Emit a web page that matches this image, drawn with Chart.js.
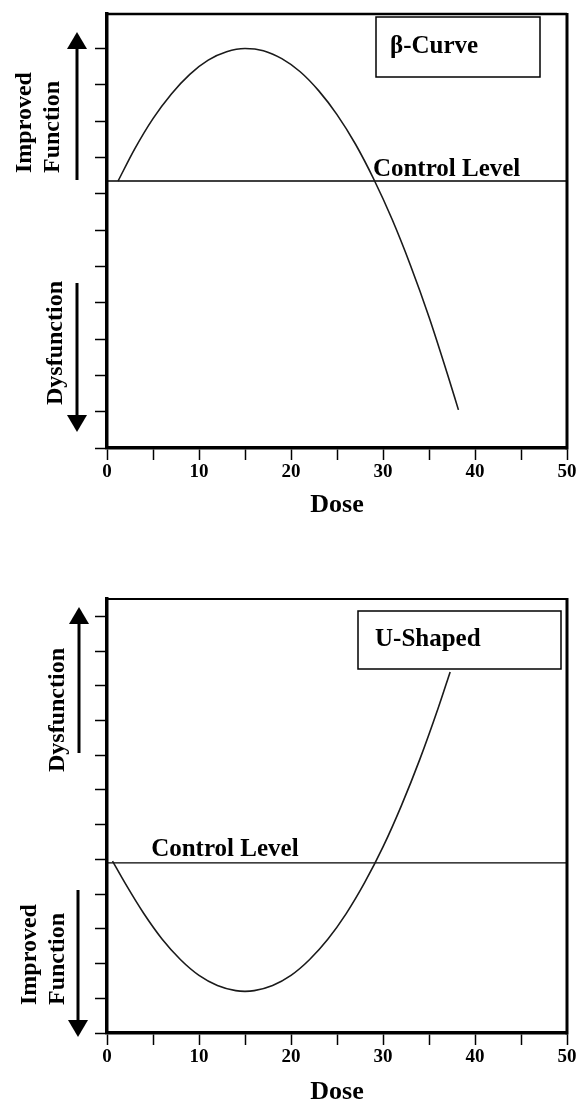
<!DOCTYPE html>
<html>
<head>
<meta charset="utf-8">
<script src="https://cdn.jsdelivr.net/npm/chart.js@4.4.0/dist/chart.umd.min.js"></script>
<style>
  html, body { margin: 0; padding: 0; background: #fff; }
  #page { position: relative; width: 581px; height: 1108px; }
  canvas { position: absolute; left: 0; }
</style>
</head>
<body>
<div id="page">
  <canvas id="beta" width="581" height="540" style="top:0"></canvas>
  <canvas id="ushape" width="581" height="568" style="top:540px"></canvas>
</div>
<script>
// dose ticks that carry a label (minor ticks every 5 have none)
const doseLabels = [0, 10, 20, 30, 40, 50];

// beta curve
const betaDose = [1.2, 3, 5, 7, 9, 11, 13, 15, 17, 19, 21, 23, 25, 27, 29, 31, 33, 35, 37, 38.2];
const betaResponse = [7.35, 8.23, 9.07, 9.75, 10.29, 10.68, 10.91, 11.0, 10.94, 10.72, 10.36, 9.84, 9.18, 8.37, 7.4, 6.29, 5.02, 3.61, 2.04, 1.05];
const betaControl = 7.35;

// u-shaped curve, bottom panel
const uDose = [0.6, 2, 4, 6, 8, 10, 12, 14, 15, 16, 18, 20, 22, 24, 26, 28, 30, 32, 34, 36, 37.3];
const uResponse = [4.95, 4.3, 3.44, 2.7, 2.11, 1.66, 1.37, 1.22, 1.2, 1.22, 1.37, 1.66, 2.11, 2.7, 3.44, 4.33, 5.36, 6.55, 7.88, 9.36, 10.4];
const uControl = 4.9;

const SERIF = '"Liberation Serif", "Times New Roman", serif';

//frame, legend box, control label, side labels and arrows
const panelDecor = {
  id: 'panelDecor',
  afterDraw(chart, args, o) {
    const ctx = chart.ctx;
    const a = chart.chartArea;
    const x = chart.scales.x, y = chart.scales.y;
    ctx.save();
    ctx.strokeStyle = '#000';
    ctx.fillStyle = '#000';
    // top and right edge of the frame
    ctx.lineWidth = o.topWidth;
    ctx.beginPath(); ctx.moveTo(a.left - 1.5, a.top); ctx.lineTo(a.right, a.top); ctx.stroke();
    ctx.lineWidth = 3;
    ctx.beginPath(); ctx.moveTo(a.right, a.top - 1); ctx.lineTo(a.right, a.bottom + 1.5); ctx.stroke();

    ctx.font = 'bold 25px ' + SERIF;
    ctx.textAlign = 'left';
    ctx.textBaseline = 'alphabetic';
    ctx.fillText('Control Level', x.getPixelForValue(o.controlAt), y.getPixelForValue(o.control) - o.controlGap);

    // legend box
    const b = o.box;
    ctx.fillStyle = '#fff';
    ctx.fillRect(b.x, b.y, b.w, b.h);
    ctx.lineWidth = 1.5;
    ctx.strokeRect(b.x, b.y, b.w, b.h);
    ctx.fillStyle = '#000';
    ctx.textBaseline = 'middle';
    ctx.fillText(b.text, b.x + b.pad, b.y + b.h / 2);

    // rotated labels left of the axis
    ctx.font = 'bold 24px ' + SERIF;
    ctx.textBaseline = 'alphabetic';
    o.side.forEach(s => {
      s.lines.forEach((t, i) => {
        ctx.save();
        ctx.translate(s.xs[i], s.y);
        ctx.rotate(-Math.PI / 2);
        ctx.fillText(t, 0, 0);
        ctx.restore();
      });
    });

    // arrows
    o.arrows.forEach(ar => {
      const dir = Math.sign(ar.tip - ar.tail);
      const base = ar.tip - dir * 17;
      ctx.lineWidth = 3;
      ctx.beginPath(); ctx.moveTo(ar.x, ar.tail); ctx.lineTo(ar.x, base); ctx.stroke();
      ctx.beginPath();
      ctx.moveTo(ar.x - 10, base); ctx.lineTo(ar.x + 10, base); ctx.lineTo(ar.x, ar.tip);
      ctx.closePath(); ctx.fill();
    });
    ctx.restore();
  }
};

function makePanel(id, dose, resp, control, yMax, decor) {
  return new Chart(document.getElementById(id), {
    type: 'line',
    data: {
      datasets: [
        {
          data: dose.map((d, i) => ({ x: d, y: resp[i] })),
          borderColor: '#1a1a1a', borderWidth: 1.6, pointRadius: 0,
          cubicInterpolationMode: 'monotone', fill: false
        },
        {
          data: [{ x: 0, y: control }, { x: 50, y: control }],
          borderColor: '#000', borderWidth: 1.4, pointRadius: 0, fill: false
        }
      ]
    },
    options: {
      responsive: false,
      animation: false,
      layout: { padding: { left: 0, top: decor.top, right: 14, bottom: 0 } },
      plugins: { legend: { display: false }, tooltip: { enabled: false }, panelDecor: decor },
      scales: {
        x: {
          type: 'linear', min: 0, max: 50,
          ticks: {
            stepSize: 5, autoSkip: false, maxRotation: 0, padding: 1, color: '#000',
            font: { family: SERIF, size: 19, weight: 'bold' },
            callback: v => doseLabels.includes(v) ? String(v) : ''
          },
          grid: { drawOnChartArea: false, drawTicks: true, tickLength: 12, tickWidth: 1.5, tickColor: '#000' },
          border: { color: '#000', width: 3.5 },
          title: {
            display: true, text: 'Dose', color: '#000',
            font: { family: SERIF, size: 26, weight: 'bold' },
            padding: { top: 0, bottom: decor.titlePad }
          },
          afterFit: s => { s.height = decor.xHeight; }
        },
        y: {
          min: 0, max: yMax,
          ticks: { display: false, stepSize: 1, includeBounds: false },
          grid: { drawOnChartArea: false, drawTicks: true, tickLength: 12, tickWidth: 1.5, tickColor: '#000' },
          border: { color: '#000', width: 3.5 },
          afterFit: s => { s.width = 107; }
        }
      }
    },
    plugins: [panelDecor]
  });
}

makePanel('beta', betaDose, betaResponse, betaControl, 11.95, {
  top: 14, xHeight: 92, titlePad: 19, topWidth: 2.5,
  control: betaControl, controlAt: 28.9, controlGap: 5,
  box: { x: 376, y: 17, w: 164, h: 60, text: 'β-Curve', pad: 14 },
  side: [
    { lines: ['Improved', 'Function'], xs: [31, 59], y: 173 },
    { lines: ['Dysfunction'], xs: [62], y: 405 }
  ],
  arrows: [{ x: 77, tail: 180, tip: 32 }, { x: 77, tail: 283, tip: 432 }]
});

makePanel('ushape', uDose, uResponse, uControl, 12.5, {
  top: 59, xHeight: 75, titlePad: 0, topWidth: 2,
  control: uControl, controlAt: 4.8, controlGap: 7,
  box: { x: 358, y: 71, w: 203, h: 58, text: 'U-Shaped', pad: 17 },
  side: [
    { lines: ['Dysfunction'], xs: [64], y: 232 },
    { lines: ['Improved', 'Function'], xs: [36, 64], y: 465 }
  ],
  arrows: [{ x: 79, tail: 213, tip: 67 }, { x: 78, tail: 350, tip: 497 }]
});
</script>
</body>
</html>
